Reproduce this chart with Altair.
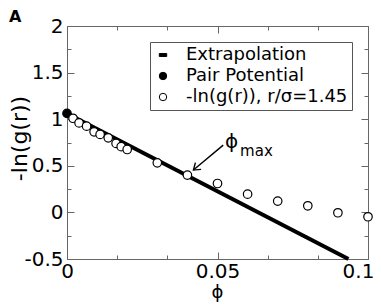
import altair as alt
import pandas as pd

# ---- data ----
phi_points = [0.002, 0.004, 0.0065, 0.009, 0.011, 0.0137, 0.0163, 0.018, 0.02,
              0.03, 0.04, 0.05, 0.06, 0.07, 0.08, 0.09, 0.1]
g_points = [1.01, 0.96, 0.925, 0.865, 0.837, 0.80, 0.74, 0.705, 0.675,
            0.532, 0.40, 0.31, 0.196, 0.121, 0.071, -0.004, -0.047]
pair_phi = [0.0]
pair_val = [1.062]
line_phi = [0.0, 0.0935]
line_val = [1.062, -0.5]
arrow_phi = [0.0519, 0.0420]
arrow_val = [0.722, 0.454]
series_names = ["Extrapolation", "Pair Potential", "-ln(g(r)), r/σ=1.45"]
x_major = [0, 0.05, 0.1]
x_minor = [1 / 60, 2 / 60, 4 / 60, 5 / 60]
y_major = [-0.5, 0, 0.5, 1, 1.5, 2]
y_minor = [-0.25, 0.25, 0.75, 1.25, 1.75]

FONT = "DejaVu Sans"
GRAY = "#666666"

xs = alt.Scale(domain=[0, 0.1], nice=False, zero=False)
ys = alt.Scale(domain=[-0.5, 2], nice=False, zero=False)


def ax(orient, values, size, labels=False, pad=0, **kw):
    return alt.Axis(orient=orient, values=values, tickSize=alt.ExprRef(expr=str(-size)),
                    domain=False, grid=False, tickColor=GRAY, tickWidth=1,
                    labels=labels, labelPadding=pad, labelFont=FONT, labelFontSize=20,
                    labelColor="black", labelFlush=False, labelOverlap=False,
                    labelExpr="datum.value", **kw)


ax_bottom = ax("bottom", x_major, 7, labels=True, pad=9, title="ϕ", titleFont=FONT,
               titleFontSize=18, titleFontWeight="normal", titleColor="black",
               titleX=150, titleY=38, titleBaseline="alphabetic", titleAlign="center",
               labelOffset={"condition": {"test": "datum.value >= 0.1", "value": -10},
                            "value": 0})
ax_left = ax("left", y_major, 7, labels=True, pad=11, title="-ln(g(r))", titleFont=FONT,
             titleFontSize=22, titleFontWeight="normal", titleColor="black",
             titleX=-48, titleY=112, titleAngle=270, titleBaseline="middle",
             titleAlign="center")
ax_top = ax("top", x_major, 7, title=None)
ax_right = ax("right", y_major, 7, title=None)
ax_bottom_minor = ax("bottom", x_minor, 4, title=None)
ax_left_minor = ax("left", y_minor, 4, title=None)
ax_top_minor = ax("top", x_minor, 4, title=None)
ax_right_minor = ax("right", y_minor, 4, title=None)

line_df = pd.DataFrame({"phi": line_phi, "val": line_val})
pts_df = pd.concat([
    pd.DataFrame({"phi": pair_phi, "val": pair_val, "series": series_names[1]}),
    pd.DataFrame({"phi": phi_points, "val": g_points, "series": series_names[2]}),
])
arrow_df = pd.DataFrame({"phi": arrow_phi, "val": arrow_val})
tip_df = pd.DataFrame({"phi": arrow_phi[1:], "val": arrow_val[1:]})

dash = "M-1,-0.4L1,-0.4L1,0.4L-1,0.4Z"
legend = alt.Legend(orient="none", legendX=83, legendY=16, fillColor="white",
                    strokeColor="#555555", padding=4, rowPadding=3, labelFont=FONT,
                    labelFontSize=18, labelColor="black", symbolSize=55, labelOffset=14,
                    labelLimit=400, title=None, symbolStrokeColor="black",
                    symbolStrokeWidth=1, cornerRadius=0)

layer_line = alt.Chart(line_df).mark_line(color="black", strokeWidth=4).encode(
    x=alt.X("phi:Q", scale=xs, axis=ax_bottom),
    y=alt.Y("val:Q", scale=ys, axis=ax_left),
)

layer_pts = alt.Chart(pts_df).mark_point(filled=True, strokeWidth=1.2,
                                         size=72, opacity=1).encode(
    x=alt.X("phi:Q", scale=xs, axis=ax_top),
    y=alt.Y("val:Q", scale=ys, axis=ax_right),
    shape=alt.Shape("series:N", scale=alt.Scale(domain=series_names,
                                                range=[dash, "circle", "circle"]),
                    legend=legend),
    fill=alt.Fill("series:N", scale=alt.Scale(domain=series_names,
                                              range=["black", "black", "white"]),
                  legend=legend),
    stroke=alt.Stroke("series:N", scale=alt.Scale(domain=series_names,
                                                  range=["black", "black", "black"]),
                      legend=legend),
)

layer_arrow = alt.Chart(arrow_df).mark_line(color="black", strokeWidth=1.4).encode(
    x=alt.X("phi:Q", scale=xs, axis=ax_bottom_minor),
    y=alt.Y("val:Q", scale=ys, axis=ax_left_minor),
)

layer_tip = alt.Chart(tip_df).mark_point(shape="M-0.7,1L0,0L0.7,1", angle=230, size=160,
                                         filled=False, color="black", strokeWidth=1.4,
                                         opacity=1).encode(
    x=alt.X("phi:Q", scale=xs, axis=ax_top_minor),
    y=alt.Y("val:Q", scale=ys, axis=ax_right_minor),
)

ann_df = pd.DataFrame({"phi": [0.0525], "val": [0.688], "t": ["ϕ"]})
sub_df = pd.DataFrame({"phi": [0.0575], "val": [0.60], "t": ["max"]})
layer_phi = alt.Chart(ann_df).mark_text(font=FONT, fontSize=20, align="left",
                                        baseline="alphabetic", color="black").encode(
    x=alt.X("phi:Q", scale=xs, axis=None), y=alt.Y("val:Q", scale=ys, axis=None), text="t:N")
layer_sub = alt.Chart(sub_df).mark_text(font=FONT, fontSize=15, align="left",
                                        baseline="alphabetic", color="black").encode(
    x=alt.X("phi:Q", scale=xs, axis=None), y=alt.Y("val:Q", scale=ys, axis=None), text="t:N")

layer_A = alt.Chart(pd.DataFrame({"t": ["A"]})).mark_text(
    font=FONT, fontSize=16, fontWeight="bold", align="left", baseline="alphabetic",
    color="black").encode(x=alt.value(-58), y=alt.value(-4), text="t:N")

chart = alt.layer(layer_line, layer_pts, layer_arrow, layer_tip, layer_phi, layer_sub,
                  layer_A).resolve_axis(x="independent", y="independent").properties(
    width=301, height=233,
    autosize=alt.AutoSizeParams(type="none"),
    padding={"left": 59, "top": 18, "right": 5, "bottom": 46},
).configure_view(stroke=GRAY, strokeWidth=1)

chart.save("out.html", embed_options={"renderer": "svg", "actions": False})
